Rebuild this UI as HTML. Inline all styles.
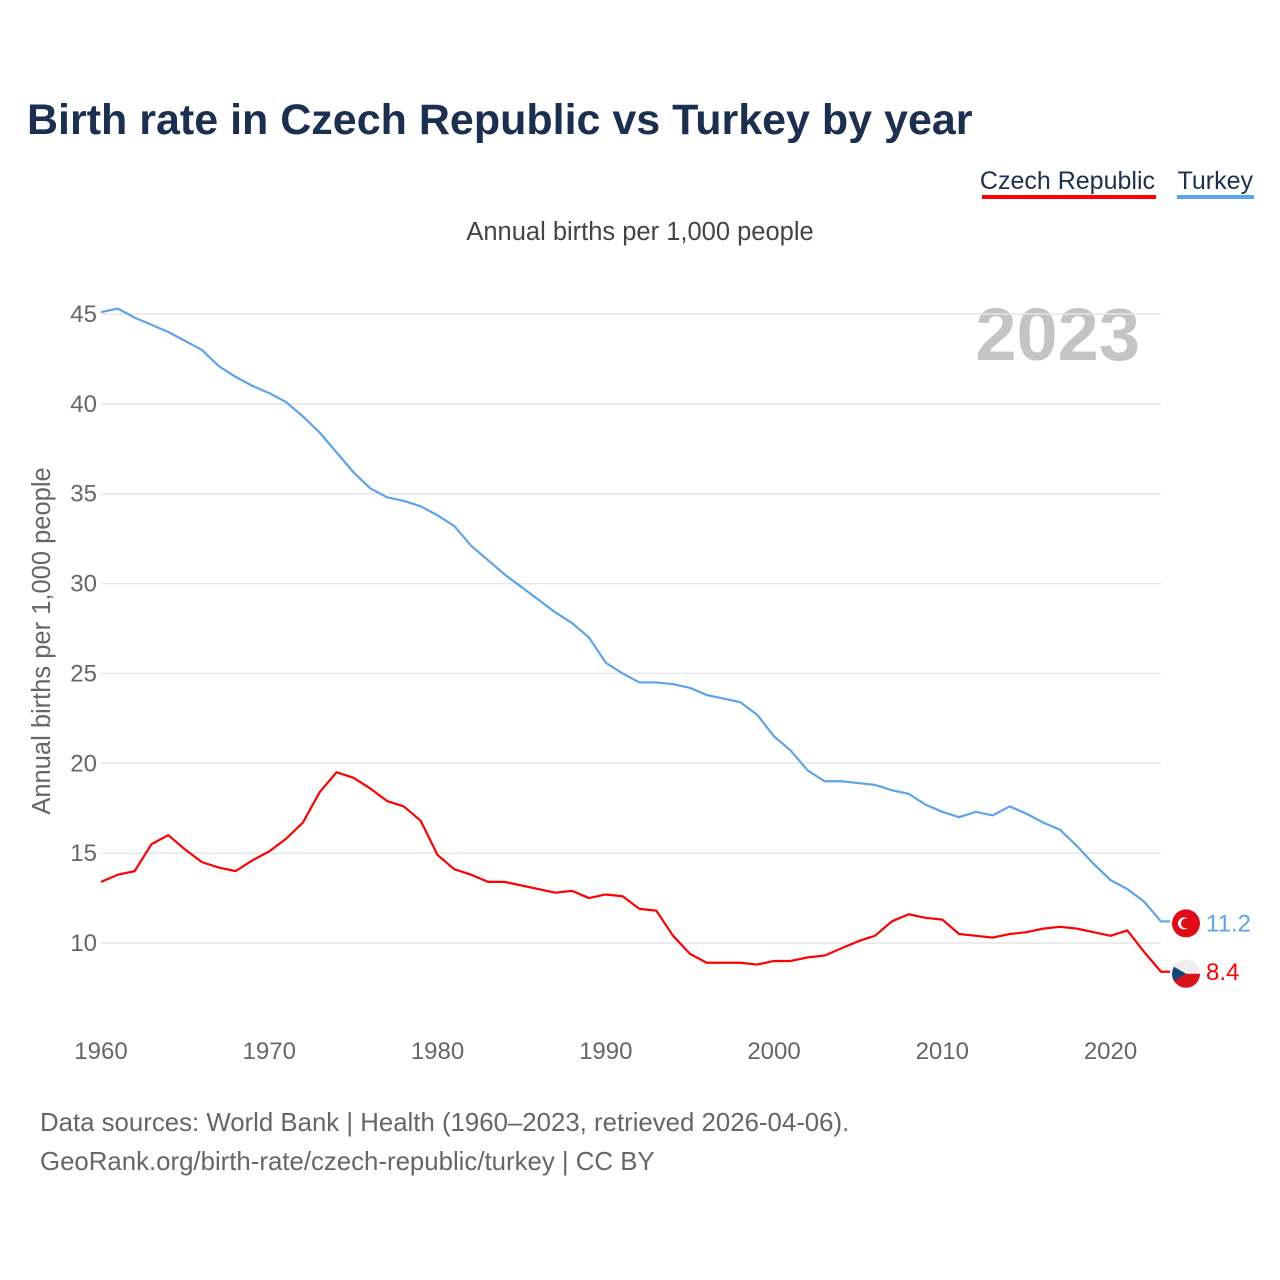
<!DOCTYPE html>
<html><head><meta charset="utf-8"><style>
body{margin:0;background:#fff;width:1280px;height:1280px;overflow:hidden;font-family:"Liberation Sans",sans-serif}
</style></head><body>
<svg width="1280" height="1280" style="position:absolute;left:0;top:0">
<text x="27" y="134" font-size="43" font-weight="bold" fill="#1b3050">Birth rate in Czech Republic vs Turkey by year</text>
<g>
<text x="1155" y="189" font-size="25" fill="#1b3050" text-anchor="end">Czech Republic</text>
<rect x="982" y="195" width="174" height="4" fill="#ff0000"/>
<text x="1253" y="189" font-size="25" fill="#1b3050" text-anchor="end">Turkey</text>
<rect x="1177" y="195" width="77" height="4" fill="#5ba4ec"/>
</g>
<text x="640" y="240" font-size="25.5" fill="#444" text-anchor="middle">Annual births per 1,000 people</text>
<text x="1140" y="360" font-size="74" font-weight="bold" fill="#c4c4c4" text-anchor="end">2023</text>
<text transform="translate(50,641) rotate(-90)" font-size="25.5" fill="#666" text-anchor="middle">Annual births per 1,000 people</text>
<g id="grid"></g><g id="yt"></g><g id="xt"></g><g id="lines"></g><g id="ends"></g>
<text x="40" y="1131" font-size="25.8" fill="#666">Data sources: World Bank | Health (1960–2023, retrieved 2026-04-06).</text>
<text x="40" y="1170" font-size="25.8" fill="#666">GeoRank.org/birth-rate/czech-republic/turkey | CC BY</text>
</svg>
<script>
const years=[];for(let y=1960;y<=2023;y++)years.push(y);
const turkey=[45.1,45.3,44.8,44.4,44.0,43.5,43.0,42.1,41.5,41.0,40.6,40.1,39.3,38.4,37.3,36.2,35.3,34.8,34.6,34.3,33.8,33.2,32.1,31.3,30.5,29.8,29.1,28.4,27.8,27.0,25.6,25.0,24.5,24.5,24.4,24.2,23.8,23.6,23.4,22.7,21.5,20.7,19.6,19.0,19.0,18.9,18.8,18.5,18.3,17.7,17.3,17.0,17.3,17.1,17.6,17.2,16.7,16.3,15.4,14.4,13.5,13.0,12.3,11.2];
const czech=[13.4,13.8,14.0,15.5,16.0,15.2,14.5,14.2,14.0,14.6,15.1,15.8,16.7,18.4,19.5,19.2,18.6,17.9,17.6,16.8,14.9,14.1,13.8,13.4,13.4,13.2,13.0,12.8,12.9,12.5,12.7,12.6,11.9,11.8,10.4,9.4,8.9,8.9,8.9,8.8,9.0,9.0,9.2,9.3,9.7,10.1,10.4,11.2,11.6,11.4,11.3,10.5,10.4,10.3,10.5,10.6,10.8,10.9,10.8,10.6,10.4,10.7,9.5,8.4];
const yTicks=[10,15,20,25,30,35,40,45];
const xTicks=[1960,1970,1980,1990,2000,2010,2020];
const X=y=>101+(y-1960)*(1060/63);
const Y=v=>943-(v-10)*(629/35);
const NS="http://www.w3.org/2000/svg";
function mk(p,t,a){const e=document.createElementNS(NS,t);for(const k in a)e.setAttribute(k,a[k]);document.getElementById(p).appendChild(e);return e;}
yTicks.forEach(v=>{
 const l=mk('grid','line',{x1:101,x2:1161,y1:Y(v),y2:Y(v),stroke:'#e6e6e6','stroke-width':1.5});
 
 
 const t=mk('yt','text',{x:97,y:Y(v)+8,'font-size':24,fill:'#666','text-anchor':'end'});t.textContent=v;
 
 
});
xTicks.forEach(v=>{
 const t=mk('xt','text',{x:X(v),y:1059,'font-size':24,fill:'#666','text-anchor':'middle'});t.textContent=v;
 
 
});
function line(d,c,n){const pts=d.map((v,i)=>X(years[i])+','+Y(v));pts.push('1170,'+Y(d[d.length-1]));
 const p=mk('lines','polyline',{points:pts.join(' '),fill:'none',stroke:c,'stroke-width':2.2,'stroke-linejoin':'round'});
 
 }
line(turkey,'#5ba4ec','turkey-line');line(czech,'#ff0000','czech-line');
const tv=turkey[turkey.length-1],cv=czech[czech.length-1];
const ex=1186;
let c1=mk('ends','circle',{cx:ex,cy:Y(tv)+2,r:14,fill:'#e30a17'});


mk('ends','circle',{cx:ex-2,cy:Y(tv)+2,r:6,fill:'#fff'});mk('ends','circle',{cx:ex,cy:Y(tv)+2,r:5,fill:'#e30a17'});
let t1=mk('ends','text',{x:1206,y:Y(tv)+10,'font-size':24,fill:'#5ba4ec'});t1.textContent=tv.toFixed(1);


const cy=Y(cv)+2;
let c2=mk('ends','path',{d:`M${ex-14},${cy} A14,14 0 0 1 ${ex+14},${cy} Z`,fill:'#eee'});


mk('ends','path',{d:`M${ex-14},${cy} A14,14 0 0 0 ${ex+14},${cy} Z`,fill:'#d7141a'});
mk('ends','path',{d:`M${ex-12},${cy-7} L${ex},${cy} L${ex-12},${cy+7} A14,14 0 0 1 ${ex-12},${cy-7} Z`,fill:'#11457e'});
let t2=mk('ends','text',{x:1206,y:Y(cv)+8,'font-size':24,fill:'#ff0000'});t2.textContent=cv.toFixed(1);


</script>
</body></html>
